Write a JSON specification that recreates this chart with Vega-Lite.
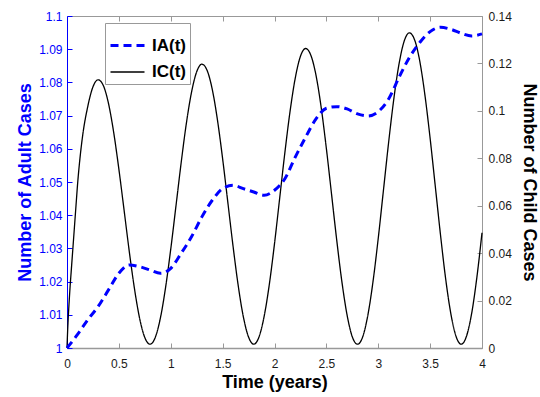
{
  "$schema": "https://vega.github.io/schema/vega-lite/v6.json",
  "width": 415,
  "height": 332,
  "autosize": {"type": "none"},
  "padding": {"left": 67, "top": 16, "right": 58, "bottom": 49},
  "background": "white",
  "config": {
    "view": {"stroke": null},
    "font": "Liberation Sans",
    "axis": {"grid": false, "labelFont": "Liberation Sans", "titleFont": "Liberation Sans", "labelFontSize": 12, "titleFontSize": 18, "titleFontWeight": "bold", "domainWidth": 1, "tickWidth": 1, "labelFlush": false, "labelOverlap": false},
    "legend": {"orient": "none", "legendX": 38, "legendY": 7, "fillColor": "white", "strokeColor": "#999999", "padding": 4, "symbolType": "stroke", "symbolSize": 1156, "labelFont": "Liberation Sans", "labelFontSize": 17, "labelFontWeight": "bold", "labelColor": "#000000", "rowPadding": -5, "labelOffset": 6}
  },
  "datasets": {
    "adult": [
      {"t": 0, "a": 1.0, "series": "IA(t)"},
      {"t": 0.1, "a": 1.004, "series": "IA(t)"},
      {"t": 0.2, "a": 1.0085, "series": "IA(t)"},
      {"t": 0.3, "a": 1.0125, "series": "IA(t)"},
      {"t": 0.4, "a": 1.0175, "series": "IA(t)"},
      {"t": 0.5, "a": 1.0225, "series": "IA(t)"},
      {"t": 0.6, "a": 1.025, "series": "IA(t)"},
      {"t": 0.7, "a": 1.0245, "series": "IA(t)"},
      {"t": 0.8, "a": 1.0235, "series": "IA(t)"},
      {"t": 0.9, "a": 1.0225, "series": "IA(t)"},
      {"t": 1.0, "a": 1.024, "series": "IA(t)"},
      {"t": 1.1, "a": 1.0285, "series": "IA(t)"},
      {"t": 1.2, "a": 1.0335, "series": "IA(t)"},
      {"t": 1.3, "a": 1.0395, "series": "IA(t)"},
      {"t": 1.4, "a": 1.0445, "series": "IA(t)"},
      {"t": 1.5, "a": 1.048, "series": "IA(t)"},
      {"t": 1.6, "a": 1.049, "series": "IA(t)"},
      {"t": 1.7, "a": 1.048, "series": "IA(t)"},
      {"t": 1.8, "a": 1.047, "series": "IA(t)"},
      {"t": 1.9, "a": 1.046, "series": "IA(t)"},
      {"t": 2.0, "a": 1.0475, "series": "IA(t)"},
      {"t": 2.1, "a": 1.051, "series": "IA(t)"},
      {"t": 2.2, "a": 1.0575, "series": "IA(t)"},
      {"t": 2.3, "a": 1.0635, "series": "IA(t)"},
      {"t": 2.4, "a": 1.069, "series": "IA(t)"},
      {"t": 2.5, "a": 1.0722, "series": "IA(t)"},
      {"t": 2.6, "a": 1.0727, "series": "IA(t)"},
      {"t": 2.7, "a": 1.072, "series": "IA(t)"},
      {"t": 2.8, "a": 1.0705, "series": "IA(t)"},
      {"t": 2.9, "a": 1.0699, "series": "IA(t)"},
      {"t": 3.0, "a": 1.0712, "series": "IA(t)"},
      {"t": 3.1, "a": 1.075, "series": "IA(t)"},
      {"t": 3.2, "a": 1.0815, "series": "IA(t)"},
      {"t": 3.3, "a": 1.0875, "series": "IA(t)"},
      {"t": 3.4, "a": 1.092, "series": "IA(t)"},
      {"t": 3.5, "a": 1.0953, "series": "IA(t)"},
      {"t": 3.6, "a": 1.0966, "series": "IA(t)"},
      {"t": 3.7, "a": 1.096, "series": "IA(t)"},
      {"t": 3.8, "a": 1.0948, "series": "IA(t)"},
      {"t": 3.9, "a": 1.094, "series": "IA(t)"},
      {"t": 4.0, "a": 1.0946, "series": "IA(t)"}
    ],
    "child": [
      {"t": 0, "c": 0, "series": "IC(t)"},
      {"t": 0.005, "c": 0.006, "series": "IC(t)"},
      {"t": 0.01, "c": 0.011, "series": "IC(t)"},
      {"t": 0.02, "c": 0.019, "series": "IC(t)"},
      {"t": 0.03, "c": 0.026, "series": "IC(t)"},
      {"t": 0.04, "c": 0.032, "series": "IC(t)"},
      {"t": 0.05, "c": 0.038, "series": "IC(t)"},
      {"t": 0.06, "c": 0.044, "series": "IC(t)"},
      {"t": 0.07, "c": 0.05, "series": "IC(t)"},
      {"t": 0.08, "c": 0.056, "series": "IC(t)"},
      {"t": 0.09, "c": 0.062, "series": "IC(t)"},
      {"t": 0.1, "c": 0.068, "series": "IC(t)"},
      {"t": 0.125, "c": 0.08, "series": "IC(t)"},
      {"t": 0.15, "c": 0.0893, "series": "IC(t)"},
      {"t": 0.2, "c": 0.1018, "series": "IC(t)"},
      {"t": 0.25, "c": 0.1101, "series": "IC(t)"},
      {"t": 0.3, "c": 0.1131, "series": "IC(t)"},
      {"t": 0.35, "c": 0.1107, "series": "IC(t)"},
      {"t": 0.4, "c": 0.1031, "series": "IC(t)"},
      {"t": 0.45, "c": 0.0909, "series": "IC(t)"},
      {"t": 0.5, "c": 0.0754, "series": "IC(t)"},
      {"t": 0.55, "c": 0.0582, "series": "IC(t)"},
      {"t": 0.6, "c": 0.0408, "series": "IC(t)"},
      {"t": 0.65, "c": 0.0251, "series": "IC(t)"},
      {"t": 0.7, "c": 0.0125, "series": "IC(t)"},
      {"t": 0.75, "c": 0.0044, "series": "IC(t)"},
      {"t": 0.8, "c": 0.0016, "series": "IC(t)"},
      {"t": 0.85, "c": 0.0044, "series": "IC(t)"},
      {"t": 0.9, "c": 0.0126, "series": "IC(t)"},
      {"t": 0.95, "c": 0.0255, "series": "IC(t)"},
      {"t": 1.0, "c": 0.0417, "series": "IC(t)"},
      {"t": 1.05, "c": 0.0598, "series": "IC(t)"},
      {"t": 1.1, "c": 0.078, "series": "IC(t)"},
      {"t": 1.15, "c": 0.0946, "series": "IC(t)"},
      {"t": 1.2, "c": 0.1078, "series": "IC(t)"},
      {"t": 1.25, "c": 0.1165, "series": "IC(t)"},
      {"t": 1.3, "c": 0.1197, "series": "IC(t)"},
      {"t": 1.35, "c": 0.1171, "series": "IC(t)"},
      {"t": 1.4, "c": 0.1091, "series": "IC(t)"},
      {"t": 1.45, "c": 0.0962, "series": "IC(t)"},
      {"t": 1.5, "c": 0.0798, "series": "IC(t)"},
      {"t": 1.55, "c": 0.0615, "series": "IC(t)"},
      {"t": 1.6, "c": 0.0431, "series": "IC(t)"},
      {"t": 1.65, "c": 0.0264, "series": "IC(t)"},
      {"t": 1.7, "c": 0.0131, "series": "IC(t)"},
      {"t": 1.75, "c": 0.0046, "series": "IC(t)"},
      {"t": 1.8, "c": 0.0016, "series": "IC(t)"},
      {"t": 1.85, "c": 0.0046, "series": "IC(t)"},
      {"t": 1.9, "c": 0.0133, "series": "IC(t)"},
      {"t": 1.95, "c": 0.0268, "series": "IC(t)"},
      {"t": 2.0, "c": 0.044, "series": "IC(t)"},
      {"t": 2.05, "c": 0.0632, "series": "IC(t)"},
      {"t": 2.1, "c": 0.0824, "series": "IC(t)"},
      {"t": 2.15, "c": 0.0998, "series": "IC(t)"},
      {"t": 2.2, "c": 0.1138, "series": "IC(t)"},
      {"t": 2.25, "c": 0.123, "series": "IC(t)"},
      {"t": 2.3, "c": 0.1263, "series": "IC(t)"},
      {"t": 2.35, "c": 0.1235, "series": "IC(t)"},
      {"t": 2.4, "c": 0.115, "series": "IC(t)"},
      {"t": 2.45, "c": 0.1014, "series": "IC(t)"},
      {"t": 2.5, "c": 0.0841, "series": "IC(t)"},
      {"t": 2.55, "c": 0.0648, "series": "IC(t)"},
      {"t": 2.6, "c": 0.0454, "series": "IC(t)"},
      {"t": 2.65, "c": 0.0278, "series": "IC(t)"},
      {"t": 2.7, "c": 0.0138, "series": "IC(t)"},
      {"t": 2.75, "c": 0.0047, "series": "IC(t)"},
      {"t": 2.8, "c": 0.0016, "series": "IC(t)"},
      {"t": 2.85, "c": 0.0047, "series": "IC(t)"},
      {"t": 2.9, "c": 0.0139, "series": "IC(t)"},
      {"t": 2.95, "c": 0.0282, "series": "IC(t)"},
      {"t": 3.0, "c": 0.0463, "series": "IC(t)"},
      {"t": 3.05, "c": 0.0665, "series": "IC(t)"},
      {"t": 3.1, "c": 0.0867, "series": "IC(t)"},
      {"t": 3.15, "c": 0.105, "series": "IC(t)"},
      {"t": 3.2, "c": 0.1197, "series": "IC(t)"},
      {"t": 3.25, "c": 0.1294, "series": "IC(t)"},
      {"t": 3.3, "c": 0.1329, "series": "IC(t)"},
      {"t": 3.35, "c": 0.13, "series": "IC(t)"},
      {"t": 3.4, "c": 0.121, "series": "IC(t)"},
      {"t": 3.45, "c": 0.1066, "series": "IC(t)"},
      {"t": 3.5, "c": 0.0884, "series": "IC(t)"},
      {"t": 3.55, "c": 0.0681, "series": "IC(t)"},
      {"t": 3.6, "c": 0.0477, "series": "IC(t)"},
      {"t": 3.65, "c": 0.0291, "series": "IC(t)"},
      {"t": 3.7, "c": 0.0144, "series": "IC(t)"},
      {"t": 3.75, "c": 0.0049, "series": "IC(t)"},
      {"t": 3.8, "c": 0.0016, "series": "IC(t)"},
      {"t": 3.85, "c": 0.0049, "series": "IC(t)"},
      {"t": 3.9, "c": 0.0145, "series": "IC(t)"},
      {"t": 3.95, "c": 0.0296, "series": "IC(t)"},
      {"t": 4.0, "c": 0.0486, "series": "IC(t)"}
    ]
  },
  "resolve": {"scale": {"y": "independent"}, "axis": {"x": "independent", "y": "independent"}},
  "layer": [
    {
      "data": {"name": "child"},
      "mark": {"type": "line", "interpolate": "monotone"},
      "encoding": {
        "x": {"field": "t", "type": "quantitative", "scale": {"domain": [0, 4], "nice": false},
              "axis": {"orient": "top", "labels": false, "title": null, "values": [0, 0.5, 1, 1.5, 2, 2.5, 3, 3.5, 4], "tickSize": -5, "tickColor": "#999999", "domainColor": "#999999"}},
        "y": {"field": "c", "type": "quantitative", "scale": {"domain": [0, 0.14], "nice": false, "zero": false},
              "axis": {"orient": "right", "title": "Number of Child Cases", "titleColor": "#000000", "values": [0, 0.02, 0.04, 0.06, 0.08, 0.1, 0.12, 0.14], "format": "~g", "tickSize": -5, "tickColor": "#999999", "domainColor": "#999999", "labelColor": "#1a1a1a", "labelPadding": 11, "titlePadding": 8}},
        "color": {"field": "series", "type": "nominal", "scale": {"domain": ["IA(t)", "IC(t)"], "range": ["#0000ff", "#000000"]}, "legend": {"title": null}},
        "strokeDash": {"field": "series", "type": "nominal", "scale": {"domain": ["IA(t)", "IC(t)"], "range": [[8, 5], [1, 0]]}, "legend": {"title": null}},
        "strokeWidth": {"field": "series", "type": "nominal", "scale": {"domain": ["IA(t)", "IC(t)"], "range": [3, 1.3]}, "legend": {"title": null}}
      }
    },
    {
      "data": {"name": "adult"},
      "mark": {"type": "line", "interpolate": "monotone"},
      "encoding": {
        "x": {"field": "t", "type": "quantitative", "scale": {"domain": [0, 4], "nice": false},
              "axis": {"orient": "bottom", "title": "Time (years)", "titleColor": "#000000", "values": [0, 0.5, 1, 1.5, 2, 2.5, 3, 3.5, 4], "format": "~g", "tickSize": -5, "tickColor": "#999999", "domainColor": "#999999", "domainWidth": 1.5, "labelColor": "#1a1a1a", "labelPadding": 15, "titlePadding": 4}},
        "y": {"field": "a", "type": "quantitative", "scale": {"domain": [1, 1.1], "nice": false, "zero": false},
              "axis": {"orient": "left", "title": "Number of Adult Cases", "titleColor": "#0000ff", "values": [1, 1.01, 1.02, 1.03, 1.04, 1.05, 1.06, 1.07, 1.08, 1.09, 1.1], "format": "~g", "tickSize": -5, "tickColor": "#0000ff", "domainColor": "#0000ff", "labelColor": "#0000ff", "labelPadding": 10, "titlePadding": 4}},
        "color": {"field": "series", "type": "nominal", "scale": {"domain": ["IA(t)", "IC(t)"], "range": ["#0000ff", "#000000"]}, "legend": {"title": null}},
        "strokeDash": {"field": "series", "type": "nominal", "scale": {"domain": ["IA(t)", "IC(t)"], "range": [[8, 5], [1, 0]]}, "legend": {"title": null}},
        "strokeWidth": {"field": "series", "type": "nominal", "scale": {"domain": ["IA(t)", "IC(t)"], "range": [3, 1.3]}, "legend": {"title": null}}
      }
    }
  ]
}
